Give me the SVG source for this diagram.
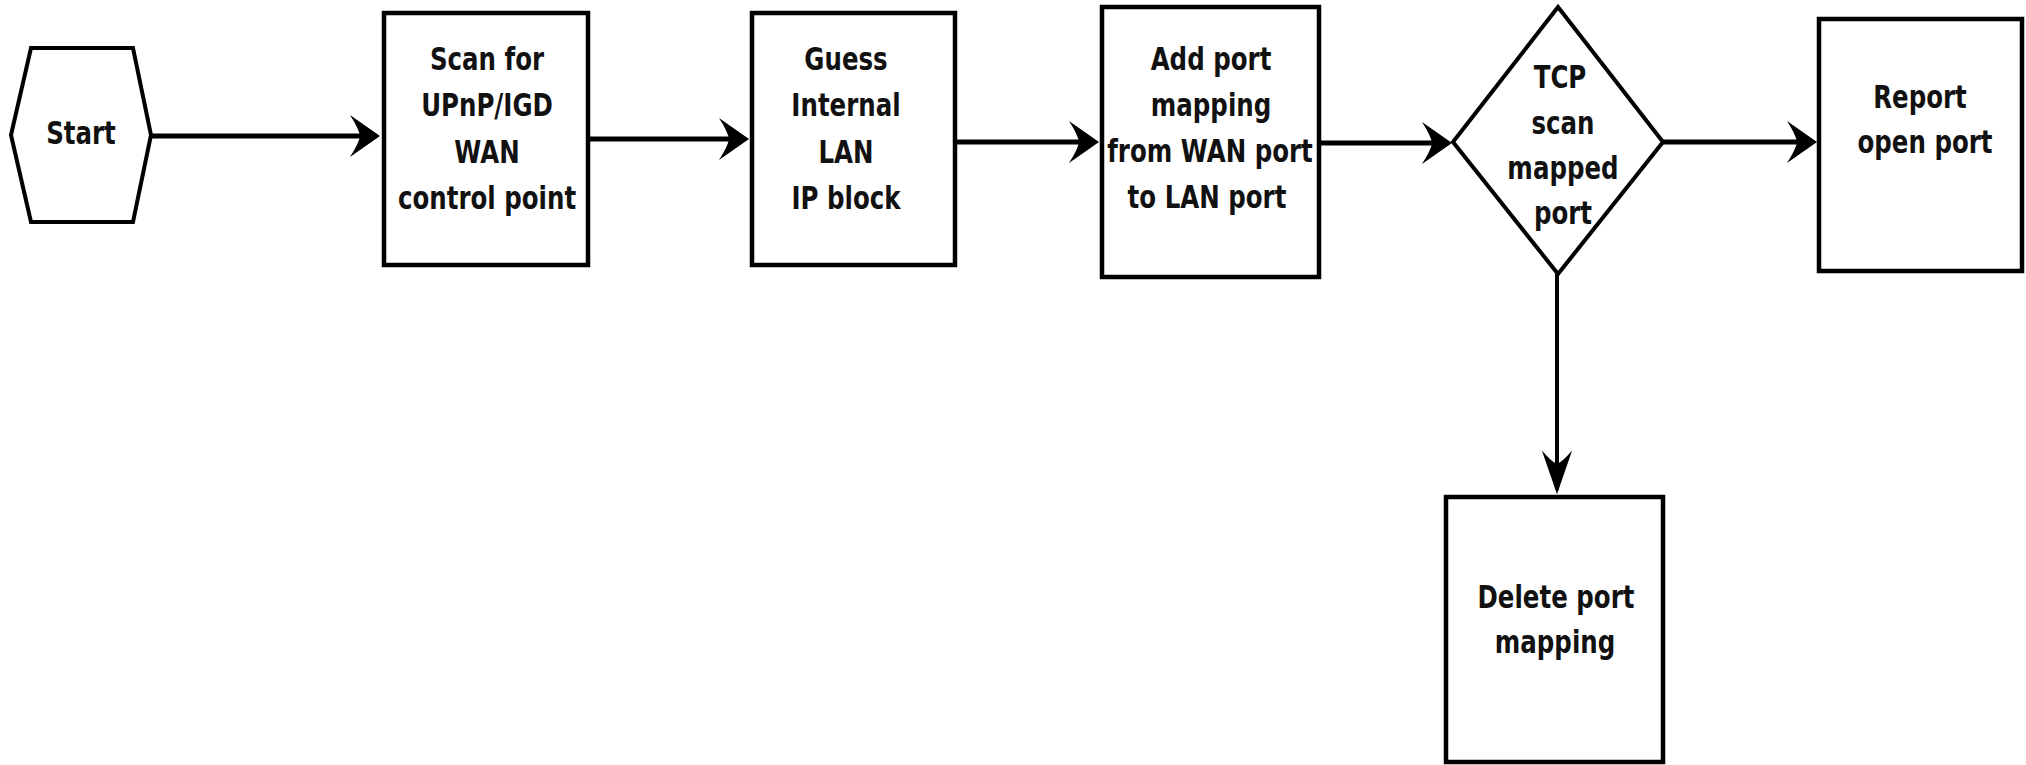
<svg xmlns="http://www.w3.org/2000/svg" width="2026" height="765" viewBox="0 0 2026 765">
<style>
.box{fill:#fff;stroke:#000;stroke-width:4.5}
.shape{fill:#fff;stroke:#000;stroke-width:4;stroke-linejoin:miter}
.t{font-family:"DejaVu Sans","Verdana",sans-serif;font-weight:bold;font-size:24.5px;fill:#111;text-anchor:middle}
.ch{fill:none;stroke:#000;stroke-width:5}
.cv{fill:none;stroke:#000;stroke-width:4}
</style>
<defs>
<marker id="ah" markerUnits="userSpaceOnUse" markerWidth="40" markerHeight="50" refX="0" refY="0" viewBox="-30 -25 34 50" orient="auto" overflow="visible">
<path d="M4,0 L-26,-21 Q-17,-7 -16,0 Q-17,7 -26,21 Z" fill="#000"/>
</marker>
<marker id="av" markerUnits="userSpaceOnUse" markerWidth="50" markerHeight="40" refX="0" refY="0" viewBox="-44 -18 48 36" orient="auto" overflow="visible">
<path d="M4,0 L-38,-14.5 Q-27,-5 -25,0 Q-27,5 -38,14.5 Z" fill="#000"/>
</marker>
</defs>
<rect width="2026" height="765" fill="#fff"/>
<g id="connectors">
<path class="ch" d="M151,136 L376,136" marker-end="url(#ah)"/>
<path class="ch" d="M588,139 L745,139" marker-end="url(#ah)"/>
<path class="ch" d="M955,142 L1095,142" marker-end="url(#ah)"/>
<path class="ch" d="M1319,143 L1448,143" marker-end="url(#ah)"/>
<path class="ch" d="M1663,142 L1813,142" marker-end="url(#ah)"/>
<path class="cv" d="M1557,274 L1557,490" marker-end="url(#av)"/>
</g>
<g id="start">
<polygon class="shape" points="11,135 31,48 133,48 151,135 133,222 31,222"/>
<text class="t" transform="translate(81,144) scale(1,1.29)">Start</text>
</g>
<g id="scan">
<rect class="box" x="384" y="13" width="204" height="252"/>
<text class="t" transform="translate(487,69.5) scale(1,1.29)">Scan for</text>
<text class="t" transform="translate(487,116) scale(1,1.29)">UPnP/IGD</text>
<text class="t" transform="translate(487,162.5) scale(1,1.29)">WAN</text>
<text class="t" transform="translate(487,209) scale(1,1.29)">control point</text>
</g>
<g id="guess">
<rect class="box" x="752" y="13" width="203" height="252"/>
<text class="t" transform="translate(846,69.5) scale(1,1.29)">Guess</text>
<text class="t" transform="translate(846,116) scale(1,1.29)">Internal</text>
<text class="t" transform="translate(846,162.5) scale(1,1.29)">LAN</text>
<text class="t" transform="translate(846,209) scale(1,1.29)">IP block</text>
</g>
<g id="addmap">
<rect class="box" x="1102" y="7" width="217" height="270"/>
<text class="t" transform="translate(1211,69.5) scale(1,1.29)">Add port</text>
<text class="t" transform="translate(1211,115.5) scale(1,1.29)">mapping</text>
<text class="t" transform="translate(1210,162) scale(1,1.29)">from WAN port</text>
<text class="t" transform="translate(1207,208) scale(1,1.29)">to LAN port</text>
</g>
<g id="tcpscan">
<polygon class="shape" points="1558,7 1663,142 1558,274 1453,142"/>
<text class="t" transform="translate(1560,88) scale(1,1.29)">TCP</text>
<text class="t" transform="translate(1563,133.5) scale(1,1.29)">scan</text>
<text class="t" transform="translate(1563,179) scale(1,1.29)">mapped</text>
<text class="t" transform="translate(1563,224) scale(1,1.29)">port</text>
</g>
<g id="report">
<rect class="box" x="1819" y="19" width="203" height="252"/>
<text class="t" transform="translate(1920,108) scale(1,1.29)">Report</text>
<text class="t" transform="translate(1925,153) scale(1,1.29)">open port</text>
</g>
<g id="delete">
<rect class="box" x="1446" y="497" width="217" height="265"/>
<text class="t" transform="translate(1556,608) scale(1,1.29)">Delete port</text>
<text class="t" transform="translate(1555,653) scale(1,1.29)">mapping</text>
</g>
</svg>
